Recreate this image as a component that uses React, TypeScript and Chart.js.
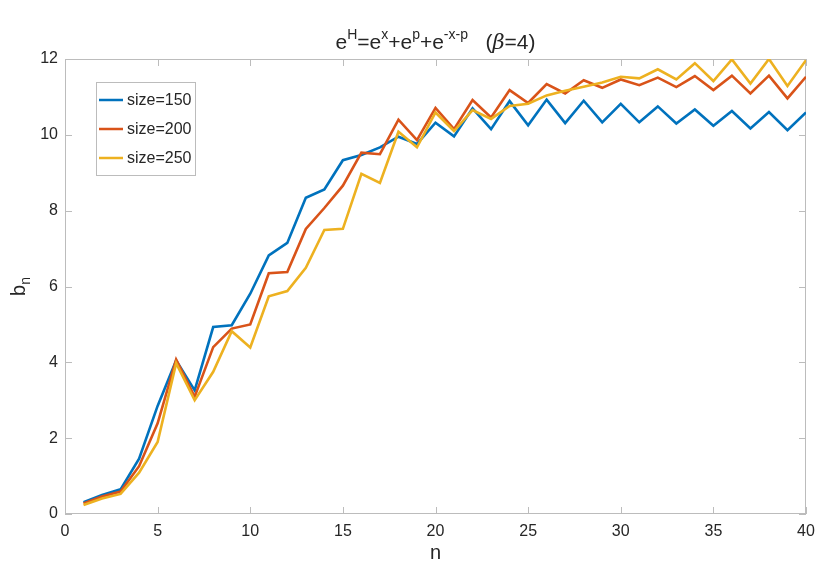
import { useEffect, useRef } from 'react';
import { Chart, registerables } from 'chart.js';

Chart.register(...registerables);

// n values along the x axis
const nValues = [
  1, 2, 3, 4, 5, 6, 7, 8, 9, 10, 11, 12, 13, 14, 15, 16, 17, 18, 19, 20,
  21, 22, 23, 24, 25, 26, 27, 28, 29, 30, 31, 32, 33, 34, 35, 36, 37, 38, 39, 40
];

// b_n, one array per matrix size
const size150 = [
  0.31, 0.5, 0.65, 1.46, 2.85, 4.05, 3.26, 4.93, 4.98, 5.81,
  6.82, 7.15, 8.34, 8.56, 9.33, 9.47, 9.67, 9.95, 9.76, 10.32,
  9.96, 10.7, 10.15, 10.89, 10.25, 10.93, 10.31, 10.9, 10.33, 10.82,
  10.33, 10.75, 10.3, 10.67, 10.24, 10.63, 10.17, 10.6, 10.12, 10.59
];
const size200 = [
  0.28, 0.46, 0.59, 1.26, 2.39, 4.07, 3.09, 4.4, 4.89, 5.0,
  6.35, 6.38, 7.52, 8.07, 8.66, 9.53, 9.49, 10.4, 9.86, 10.71,
  10.15, 10.92, 10.46, 11.18, 10.84, 11.34, 11.09, 11.44, 11.24, 11.46,
  11.31, 11.51, 11.26, 11.55, 11.18, 11.56, 11.09, 11.56, 10.96, 11.53
];
const size250 = [
  0.24, 0.41, 0.53, 1.09, 1.9, 3.98, 3.0, 3.75, 4.82, 4.39,
  5.74, 5.88, 6.49, 7.49, 7.52, 8.97, 8.73, 10.08, 9.67, 10.59,
  10.1, 10.65, 10.42, 10.76, 10.82, 11.04, 11.16, 11.27, 11.38, 11.53,
  11.49, 11.73, 11.46, 11.89, 11.42, 11.99, 11.35, 12.0, 11.29, 11.97
];

const seriesLabels = ['size=150', 'size=200', 'size=250'];
const seriesColors = ['#0072BD', '#D95319', '#EDB120'];

const xTicks = [0, 5, 10, 15, 20, 25, 30, 35, 40];
const yTicks = [0, 2, 4, 6, 8, 10, 12];

const FONT = '"Liberation Sans", Arial, Helvetica, sans-serif';
const TEXT = '#262626';
const AXIS = '#bcbcbc';

// box round the plot with inward ticks on all four sides
const framePlugin = {
  id: 'frame',
  beforeDatasetsDraw(chart: any) {
    const { ctx, chartArea: a, scales } = chart;
    ctx.save();
    ctx.strokeStyle = AXIS;
    ctx.lineWidth = 1;
    ctx.strokeRect(a.left + 0.5, a.top + 0.5, a.right - a.left - 1, a.bottom - a.top - 1);
    ctx.beginPath();
    xTicks.forEach(v => {
      const x = Math.round(scales.x.getPixelForValue(v)) + 0.5;
      ctx.moveTo(x, a.bottom);
      ctx.lineTo(x, a.bottom - 7);
      ctx.moveTo(x, a.top);
      ctx.lineTo(x, a.top + 7);
    });
    yTicks.forEach(v => {
      const y = Math.round(scales.y.getPixelForValue(v)) + 0.5;
      ctx.moveTo(a.left, y);
      ctx.lineTo(a.left + 7, y);
      ctx.moveTo(a.right, y);
      ctx.lineTo(a.right - 7, y);
    });
    ctx.stroke();
    ctx.restore();
  }
};

// title with superscripts, axis labels, legend box inside the plot
const textPlugin = {
  id: 'texts',
  afterDraw(chart: any) {
    const { ctx, chartArea: a } = chart;
    ctx.save();
    ctx.fillStyle = TEXT;
    ctx.textBaseline = 'alphabetic';

    // title
    const main = `21px ${FONT}`;
    const sup = `14px ${FONT}`;
    const ital = `italic 21px "DejaVu Serif", serif`;
    const parts: [string, string, number][] = [
      ['e', main, 0], ['H', sup, -10], ['=e', main, 0], ['x', sup, -10],
      ['+e', main, 0], ['p', sup, -10], ['+e', main, 0], ['-x-p', sup, -10],
      ['   (', main, 0], ['\u03B2', ital, 0], ['=4)', main, 0]
    ];
    let total = 0;
    parts.forEach(([t, f]) => {
      ctx.font = f;
      total += ctx.measureText(t).width;
    });
    let tx = (a.left + a.right) / 2 - total / 2;
    const base = 49;
    ctx.textAlign = 'left';
    parts.forEach(([t, f, dy]) => {
      ctx.font = f;
      ctx.fillText(t, tx, base + dy);
      tx += ctx.measureText(t).width;
    });

    // x label
    ctx.font = `20px ${FONT}`;
    ctx.textAlign = 'center';
    ctx.fillText('n', (a.left + a.right) / 2, 559);

    // y label b_n
    ctx.save();
    ctx.translate(25, (a.top + a.bottom) / 2);
    ctx.rotate(-Math.PI / 2);
    ctx.font = `20px ${FONT}`;
    const bw = ctx.measureText('b').width;
    ctx.font = `14px ${FONT}`;
    const nw = ctx.measureText('n').width;
    const start = -(bw + nw) / 2;
    ctx.textAlign = 'left';
    ctx.font = `20px ${FONT}`;
    ctx.fillText('b', start, 0);
    ctx.font = `14px ${FONT}`;
    ctx.fillText('n', start + bw, 5);
    ctx.restore();

    // legend
    const lx = 96, ly = 82, lw = 99, lh = 93;
    ctx.fillStyle = '#ffffff';
    ctx.fillRect(lx, ly, lw, lh);
    ctx.strokeStyle = AXIS;
    ctx.lineWidth = 1;
    ctx.strokeRect(lx + 0.5, ly + 0.5, lw, lh);
    ctx.font = `16px ${FONT}`;
    ctx.textAlign = 'left';
    ctx.textBaseline = 'middle';
    seriesLabels.forEach((label, i) => {
      const y = 100 + i * 29;
      ctx.strokeStyle = seriesColors[i];
      ctx.lineWidth = 2.5;
      ctx.beginPath();
      ctx.moveTo(99, y);
      ctx.lineTo(123, y);
      ctx.stroke();
      ctx.fillStyle = TEXT;
      ctx.fillText(label, 127, y + 1);
    });
    ctx.restore();
  }
};

export default function App() {
  const canvasRef = useRef<HTMLCanvasElement | null>(null);
  const chartRef = useRef<Chart | null>(null);

  useEffect(() => {
    if (!canvasRef.current) return;
    if (chartRef.current) chartRef.current.destroy();
    const ctx = canvasRef.current.getContext('2d');
    if (!ctx) return;

    const allSeries = [size150, size200, size250];
    const datasets = allSeries.map((values, i) => ({
      label: seriesLabels[i],
      data: nValues.map((n, k) => ({ x: n, y: values[k] })),
      borderColor: seriesColors[i],
      backgroundColor: seriesColors[i],
      borderWidth: 2.6,
      pointRadius: 0,
      tension: 0,
      order: 2 - i // later series on top
    }));

    chartRef.current = new Chart(ctx, {
      type: 'line',
      data: { datasets },
      plugins: [framePlugin, textPlugin],
      options: {
        animation: false,
        responsive: true,
        maintainAspectRatio: false,
        layout: { padding: { top: 59, right: 24, left: 0, bottom: 0 } },
        plugins: {
          legend: { display: false },
          title: { display: false },
          tooltip: { enabled: false }
        },
        scales: {
          x: {
            type: 'linear',
            min: 0,
            max: 40,
            grid: { display: false, drawTicks: false },
            border: { display: false },
            ticks: {
              stepSize: 5,
              padding: 8,
              color: TEXT,
              font: { family: FONT, size: 16 }
            },
            afterFit: (scale: any) => { scale.height = 73; }
          },
          y: {
            type: 'linear',
            min: 0,
            max: 12,
            grid: { display: false, drawTicks: false },
            border: { display: false },
            ticks: {
              stepSize: 2,
              padding: 7,
              color: TEXT,
              font: { family: FONT, size: 16 }
            },
            afterFit: (scale: any) => { scale.width = 65; }
          }
        }
      }
    });

    return () => {
      if (chartRef.current) {
        chartRef.current.destroy();
        chartRef.current = null;
      }
    };
  }, []);

  return (
    <div style={{ position: 'absolute', left: 0, top: 0, width: 830, height: 587, background: '#fff' }}>
      <canvas ref={canvasRef} />
    </div>
  );
}
